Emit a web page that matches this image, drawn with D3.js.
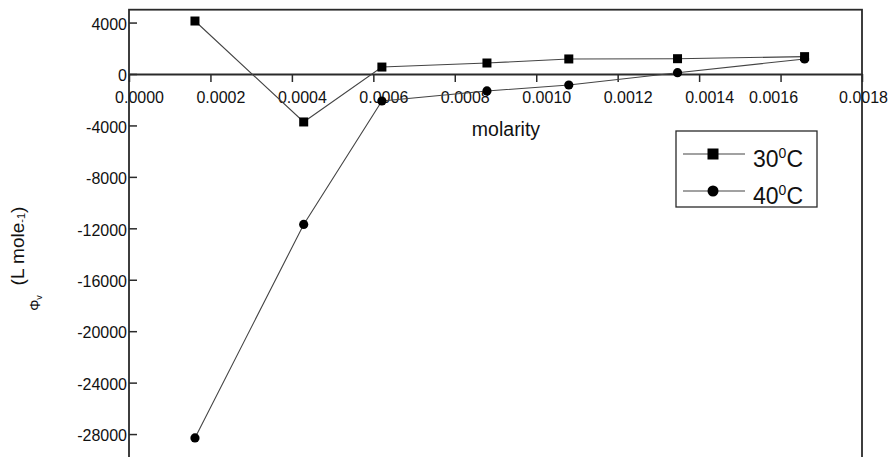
<!DOCTYPE html>
<html>
<head>
<meta charset="utf-8">
<script src="https://cdn.jsdelivr.net/npm/d3@7"></script>
<style>
  html, body { margin: 0; padding: 0; background: #fff; }
  svg { display: block; font-family: "Liberation Sans", Arial, sans-serif; }
</style>
</head>
<body>
<svg id="chart" width="890" height="457"></svg>
<script>
// Apparent molar volume Φv against molarity at two temperatures
const molarity = [0.000162, 0.000429, 0.000621, 0.000879, 0.00108, 0.001347, 0.001659];
const phi30 = [4120, -3730, 540, 855, 1170, 1190, 1350];
const phi40 = [-28300, -11700, -2100, -1320, -855, 100, 1170];
const xTicks = [0, 0.0002, 0.0004, 0.0006, 0.0008, 0.0010, 0.0012, 0.0014, 0.0016, 0.0018];
const yTicks = [4000, 0, -4000, -8000, -12000, -16000, -20000, -24000, -28000];
const seriesNames = ["30", "40"];

const svg = d3.select("#chart");
const plotLeft = 129, plotRight = 862, plotTop = 9.7, plotBottom = 485.5;

const x = d3.scaleLinear().domain([0, 0.0018]).range([plotLeft, plotRight]);
const y = d3.scaleLinear().domain([-32000, 5000]).range([plotBottom, plotTop]);

// plot frame (runs below the visible area)
svg.append("rect")
  .attr("x", plotLeft).attr("y", plotTop)
  .attr("width", plotRight - plotLeft).attr("height", plotBottom - plotTop)
  .attr("fill", "none").attr("stroke", "#2a2a2a").attr("stroke-width", 1.8);

// y axis: ticks point into the plot; plain hyphen for negatives
const yAxis = d3.axisLeft(y).tickValues(yTicks).tickSizeInner(-8).tickSizeOuter(0)
  .tickPadding(2).tickFormat(d => String(d));
const gy = svg.append("g").attr("transform", `translate(${plotLeft},0)`).call(yAxis);
gy.select(".domain").remove();
gy.selectAll(".tick line").attr("stroke", "#2a2a2a").attr("stroke-width", 1.5);
gy.selectAll(".tick text").attr("font-size", 16).attr("fill", "#111")
  .attr("font-family", "Liberation Sans, Arial, sans-serif").attr("dy", "0.42em");

// x axis drawn along the zero line
const labelShift = d => (d === 0.0016 ? -7.5 : d === 0.0018 ? 1 : 10);
const xAxis = d3.axisBottom(x).tickValues(xTicks).tickSizeInner(8).tickSizeOuter(0)
  .tickPadding(9.6).tickFormat(d => d.toFixed(4));
const gx = svg.append("g").attr("transform", `translate(0,${y(0)})`).call(xAxis);
gx.select(".domain").attr("stroke", "#2a2a2a").attr("stroke-width", 1.8);
gx.selectAll(".tick line").attr("stroke", "#2a2a2a").attr("stroke-width", 1.5);
gx.selectAll(".tick text").attr("font-size", 16).attr("fill", "#111")
  .attr("font-family", "Liberation Sans, Arial, sans-serif")
  .attr("dx", d => labelShift(d));

// axis titles
svg.append("text").attr("x", 506).attr("y", 136).attr("text-anchor", "middle")
  .attr("font-size", 19.5).attr("fill", "#111").text("molarity");

const yt = svg.append("text").attr("transform", "translate(24,246) rotate(-90)")
  .attr("text-anchor", "middle").attr("font-size", 19).attr("fill", "#111");
yt.append("tspan").text("(L mole");
yt.append("tspan").attr("font-size", 11).attr("dy", 1).text("-1");
yt.append("tspan").attr("dy", -1).text(")");

const phiLabel = svg.append("text").attr("transform", "translate(40,303) rotate(-90)")
  .attr("text-anchor", "middle").attr("font-size", 14).attr("fill", "#111");
phiLabel.append("tspan").text("Φ");
phiLabel.append("tspan").attr("font-size", 9).attr("dy", 2).text("v");

// series
const line = d3.line().x(d => x(d[0])).y(d => y(d[1]));
const pts30 = molarity.map((m, i) => [m, phi30[i]]);
const pts40 = molarity.map((m, i) => [m, phi40[i]]);

[pts30, pts40].forEach(pts => {
  svg.append("path").datum(pts).attr("d", line)
    .attr("fill", "none").attr("stroke", "#444").attr("stroke-width", 1.1);
});

const sq = 9;
svg.append("g").selectAll("rect").data(pts30).join("rect")
  .attr("x", d => x(d[0]) - sq / 2).attr("y", d => y(d[1]) - sq / 2)
  .attr("width", sq).attr("height", sq).attr("fill", "#000");
svg.append("g").selectAll("circle").data(pts40).join("circle")
  .attr("cx", d => x(d[0])).attr("cy", d => y(d[1])).attr("r", 4.6).attr("fill", "#000");

// legend
const lg = svg.append("g");
lg.append("rect").attr("x", 676).attr("y", 131).attr("width", 141).attr("height", 76)
  .attr("fill", "#fff").attr("stroke", "#2a2a2a").attr("stroke-width", 1.3);
const rowY = [154, 191];
seriesNames.forEach((name, i) => {
  const yy = rowY[i];
  lg.append("line").attr("x1", 683).attr("x2", 745).attr("y1", yy).attr("y2", yy)
    .attr("stroke", "#444").attr("stroke-width", 1.1);
  if (i === 0) {
    lg.append("rect").attr("x", 713 - 5.5).attr("y", yy - 5.5).attr("width", 11).attr("height", 11).attr("fill", "#000");
  } else {
    lg.append("circle").attr("cx", 713).attr("cy", yy).attr("r", 5.5).attr("fill", "#000");
  }
  const t = lg.append("text").attr("x", 753).attr("y", yy + 13).attr("font-size", 23).attr("fill", "#111");
  t.append("tspan").text(name);
  t.append("tspan").attr("font-size", 14).attr("dy", -9).text("0");
  t.append("tspan").attr("dy", 9).text("C");
});
</script>
</body>
</html>
